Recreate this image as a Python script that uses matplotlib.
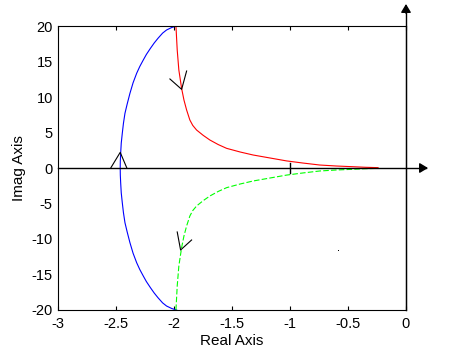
import matplotlib
matplotlib.use("Agg")
import matplotlib.pyplot as plt

plt.rcParams['font.family'] = ['Liberation Sans', 'DejaVu Sans']

# Blue branch (upper then lower half)
blue_x = [-1.979, -2.020, -2.066, -2.100, -2.140, -2.173, -2.205, -2.240, -2.267, -2.297,
          -2.324, -2.355, -2.382, -2.406, -2.425, -2.438, -2.448, -2.457, -2.462, -2.465, -2.466,
          -2.465, -2.462, -2.457, -2.448, -2.438, -2.425, -2.406, -2.382, -2.355, -2.324,
          -2.297, -2.267, -2.240, -2.205, -2.173, -2.140, -2.100, -2.066, -2.020, -1.979]
blue_y = [20.0, 19.8, 19.44, 19.0, 18.27, 17.6, 16.86, 16.0, 15.21, 14.3,
          13.34, 12.0, 10.52, 9.0, 7.70, 6.3, 4.89, 3.5, 2.07, 1.0, 0.0,
          -1.0, -2.07, -3.5, -4.89, -6.3, -7.70, -9.0, -10.52, -12.0, -13.34,
          -14.3, -15.21, -16.0, -16.86, -17.6, -18.27, -19.0, -19.44, -19.8, -20.0]

# Red branch (upper)
red_x = [-1.985, -1.974, -1.960, -1.936, -1.916, -1.893, -1.865, -1.840, -1.807, -1.750,
         -1.692, -1.620, -1.548, -1.430, -1.319, -1.170, -1.031, -0.890, -0.744, -0.600,
         -0.457, -0.350, -0.241]
red_y = [20.0, 16.6, 13.8, 11.2, 9.58, 8.17, 6.76, 6.0, 5.35, 4.6,
         3.94, 3.3, 2.77, 2.25, 1.83, 1.4, 1.0, 0.7, 0.42, 0.28,
         0.18, 0.1, 0.05]

# Green branch (lower)
green_x = [-1.985, -1.974, -1.960, -1.936, -1.916, -1.893, -1.865, -1.840, -1.807, -1.750,
           -1.692, -1.620, -1.548, -1.430, -1.319, -1.170, -1.031, -0.890, -0.744, -0.600,
           -0.457, -0.350, -0.241]
green_y = [-20.0, -16.6, -13.8, -11.2, -9.58, -8.17, -6.76, -6.0, -5.35, -4.6,
           -3.94, -3.3, -2.77, -2.25, -1.83, -1.4, -1.0, -0.7, -0.42, -0.28,
           -0.18, -0.1, -0.05]

# Direction chevrons (arm, apex, arm)
chev_blue_x = [-2.546, -2.466, -2.410]
chev_blue_y = [0.05, 2.2, 0.05]
chev_red_x = [-2.037, -1.936, -1.893]
chev_red_y = [12.54, 11.08, 13.66]
chev_green_x = [-1.974, -1.945, -1.850]
chev_green_y = [-9.01, -11.55, -10.14]

xticks = [-3, -2.5, -2, -1.5, -1, -0.5, 0]
xtick_labels = ['-3', '-2.5', '-2', '-1.5', '-1', '-0.5', '0']
yticks = [-20, -15, -10, -5, 0, 5, 10, 15, 20]
ytick_labels = ['-20', '-15', '-10', '-5', '0', '5', '10', '15', '20']

fig = plt.figure(figsize=(4.5, 3.5), dpi=100)
ax = fig.add_axes([0.1296, 0.1143, 0.7726, 0.8114])
ax.set_xlim(-3, 0)
ax.set_ylim(-20, 20)

lw = 0.8
ax.plot(blue_x, blue_y, color=(0, 0, 1), lw=lw)
ax.plot(red_x, red_y, color=(1, 0, 0), lw=lw)
ax.plot(green_x, green_y, color=(0, 1, 0), lw=lw, dashes=(5, 2))

for cx, cy in [(chev_blue_x, chev_blue_y), (chev_red_x, chev_red_y), (chev_green_x, chev_green_y)]:
    ax.plot(cx, cy, color='black', lw=lw)

# stray point
ax.plot([-0.586], [-11.7], marker=',', color='black', lw=0)

# real axis line with arrow
ax.plot([-3, 0.17], [0, 0], color='black', lw=1.0, clip_on=False)
ax.plot([-1, -1], [-0.7, 0.7], color='black', lw=1.0)
ax.annotate('', xy=(0.19, 0), xytext=(0.12, 0), xycoords='data',
            arrowprops=dict(arrowstyle='-|>,head_length=0.5,head_width=0.3', color='black', lw=1.0,
                            shrinkA=0, shrinkB=0), annotation_clip=False)
# imag axis line with arrow
ax.plot([0, 0], [-20, 22.5], color='black', lw=1.0, clip_on=False)
ax.annotate('', xy=(0, 23.1), xytext=(0, 21.8), xycoords='data',
            arrowprops=dict(arrowstyle='-|>,head_length=0.5,head_width=0.3', color='black', lw=1.0,
                            shrinkA=0, shrinkB=0), annotation_clip=False)

ax.set_xticks(xticks)
ax.set_xticklabels(xtick_labels)
ax.set_yticks(yticks)
ax.set_yticklabels(ytick_labels)
ax.tick_params(axis='x', direction='in', length=3, top=True, bottom=True, labelsize=10.5, pad=5, width=0.8)
ax.tick_params(axis='y', direction='in', length=0, labelsize=10.5, pad=4)
for s in ax.spines.values():
    s.set_linewidth(0.8)

ax.set_xlabel('Real Axis', fontsize=11, labelpad=2)
ax.set_ylabel('Imag Axis', fontsize=11, labelpad=4)

fig.savefig('out.png', dpi=100)
